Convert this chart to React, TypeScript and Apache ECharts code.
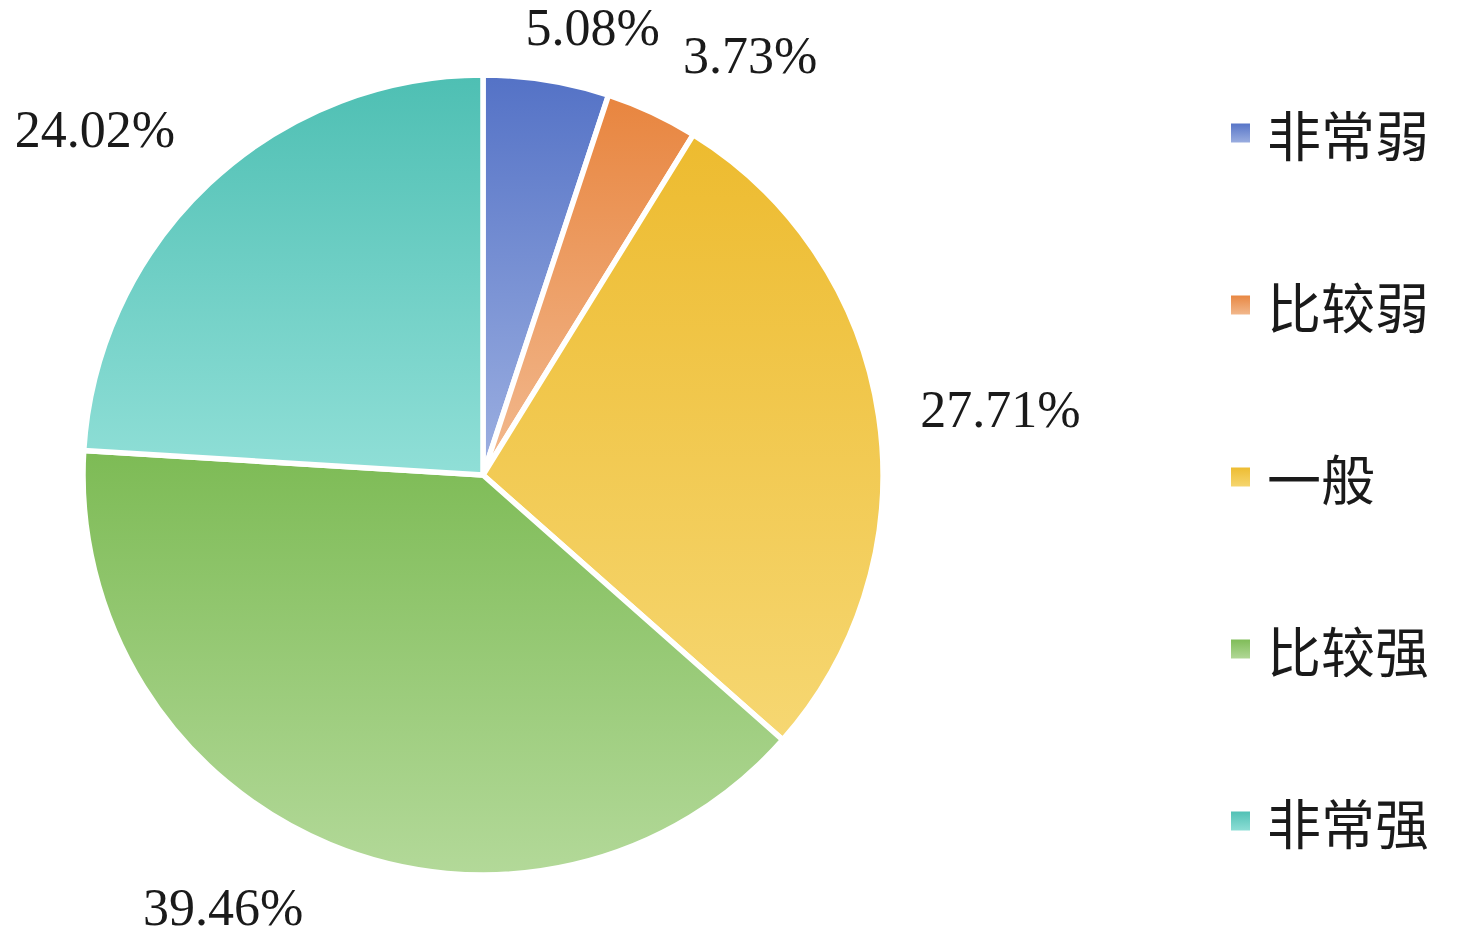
import React, { useEffect, useRef } from "react";
import * as echarts from "echarts";

const categories = ["非常弱", "比较弱", "一般", "比较强", "非常强"];
const values = [5.08, 3.73, 27.71, 39.46, 24.02];
const gradientTop = ["#5472c6", "#e8853f", "#edbb2f", "#7dbb55", "#4ebfb3"];
const gradientBottom = ["#9db0e1", "#f2ba90", "#f6d772", "#b3d999", "#90dfd7"];
const labelNudge: [number, number][] = [
  [-32, -15],
  [10, -23],
  [-1, -1],
  [-7, 28],
  [-3, -26],
];

export default function App() {
  const ref = useRef<HTMLDivElement>(null);
  useEffect(() => {
    if (!ref.current) return;
    const chart = echarts.init(ref.current, undefined, { renderer: "svg" });
    const data = categories.map((name, i) => ({
      name,
      value: values[i],
      itemStyle: {
        color: new echarts.graphic.LinearGradient(0, 0, 0, 1, [
          { offset: 0, color: gradientTop[i] },
          { offset: 1, color: gradientBottom[i] },
        ]),
      },
    }));
    chart.setOption({
      animation: false,
      backgroundColor: "#ffffff",
      legend: {
        orient: "vertical",
        left: 1229,
        top: 106,
        padding: 0,
        itemWidth: 21,
        itemHeight: 21,
        itemGap: 118,
        icon: "rect",
        selectedMode: false,
        data: categories,
        textStyle: {
          fontFamily: "Noto Sans CJK SC",
          fontSize: 54,
          lineHeight: 54,
          color: "#1a1a1a",
          padding: [0, 0, 0, 11],
        },
      },
      series: [
        {
          type: "pie",
          center: [483, 475],
          radius: 400,
          startAngle: 90,
          clockwise: true,
          avoidLabelOverlap: false,
          itemStyle: { borderColor: "#ffffff", borderWidth: 5.5 },
          label: {
            show: true,
            position: "outside",
            fontFamily: "Liberation Serif",
            fontSize: 52,
            lineHeight: 44,
            color: "#1a1a1a",
            formatter: (p: any) => `${Number(p.value).toFixed(2)}%`,
          },
          labelLine: { show: false, length: 38, length2: 0 },
          labelLayout: (p: any) => ({
            dx: labelNudge[p.dataIndex][0],
            dy: labelNudge[p.dataIndex][1],
          }),
          emphasis: { disabled: true },
          data,
        },
      ],
    });
    return () => chart.dispose();
  }, []);
  return (
    <div
      ref={ref}
      style={{ position: "absolute", left: 0, top: 0, width: 1457, height: 940 }}
    />
  );
}
